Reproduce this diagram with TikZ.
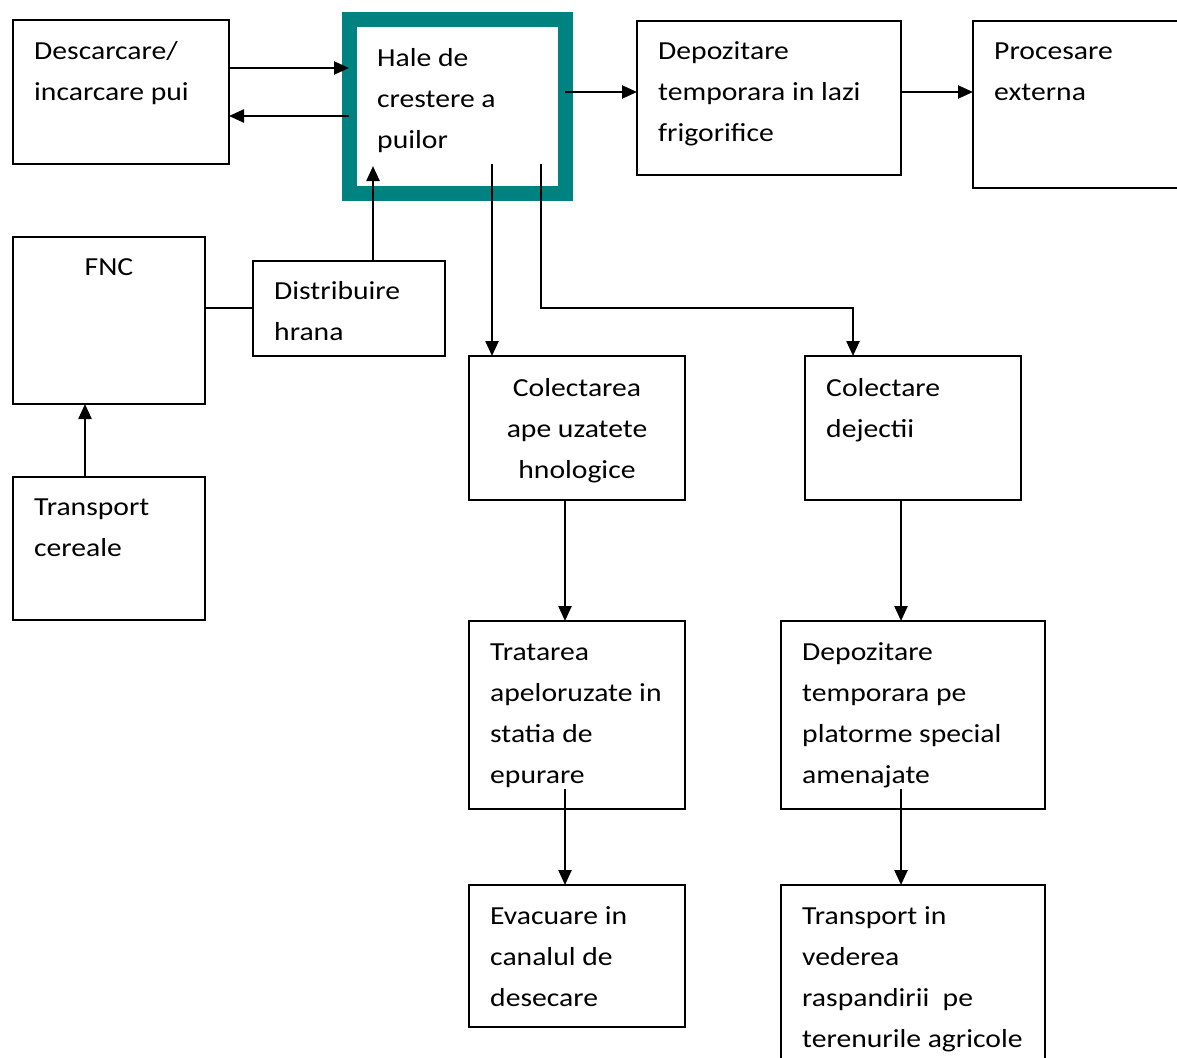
\documentclass[tikz,border=0pt]{standalone}
\usepackage{fontspec}
\setmainfont{Carlito}[FakeStretch=1.14]
\usetikzlibrary{arrows.meta,calc}
\definecolor{tealc}{RGB}{0,130,128}
\newcommand\mystrut{\rule{0pt}{30pt}}
\begin{document}
\begin{tikzpicture}[x=1pt,y=-1pt,
  box/.style={draw=black, line width=2pt, rectangle, anchor=north west, inner sep=0pt, outer sep=0pt, fill=white},
  tealbox/.style={draw=tealc, line width=15pt, rectangle, anchor=north west, inner sep=0pt, outer sep=0pt},
  txt/.style={anchor=north west, inner sep=0pt, align=left, font=\fontsize{26}{41}\selectfont},
  ctxt/.style={anchor=north, inner sep=0pt, align=center, font=\fontsize{26}{41}\selectfont},
  arr/.style={line width=2.4pt, -{Triangle[length=15pt,width=13pt]}},
  conn/.style={line width=1.8pt},
]
\useasboundingbox (0,0) rectangle (1177,1057);
\fill[white] (0,0) rectangle (1177,1057);
\clip (0,0) rectangle (1177,1057);

% boxes
\node[box, minimum width=216pt, minimum height=144pt] (desc) at (13,20) {};
\node[tealbox, minimum width=216pt, minimum height=173pt] (hale) at (349,20) {};
\node[box, minimum width=264pt, minimum height=154pt] (depo1) at (637,21) {};
\node[box, minimum width=230pt, minimum height=167pt] (proc) at (973,21) {};
\node[box, minimum width=192pt, minimum height=167pt] (fnc) at (13,237) {};
\node[box, minimum width=192pt, minimum height=95pt] (distr) at (253,261) {};
\node[box, minimum width=192pt, minimum height=143pt] (transc) at (13,477) {};
\node[box, minimum width=216pt, minimum height=144pt] (colA) at (469,356) {};
\node[box, minimum width=216pt, minimum height=144pt] (colD) at (805,356) {};
\node[box, minimum width=216pt, minimum height=188pt] (trat) at (469,621) {};
\node[box, minimum width=264pt, minimum height=188pt] (depo2) at (781,621) {};
\node[box, minimum width=216pt, minimum height=142pt] (evac) at (469,885) {};
\node[box, minimum width=264pt, minimum height=200pt] (transv) at (781,885) {};

% texts
\node[txt] (tdesc) at ($(desc.north west)+(21,9)$) {\mystrut Descarcare/\\incarcare pui};
\node[txt] (thale) at ($(hale.north west)+(28,16)$) {\mystrut Hale de\\crestere a\\puilor};
\node[txt] (tdepo1) at ($(depo1.north west)+(21,8)$) {\mystrut Depozitare\\temporara in lazi\\frigorifice};
\node[txt] (tproc) at ($(proc.north west)+(21,8)$) {\mystrut Procesare\\externa};
\node[ctxt] (tfnc) at ($(fnc.north)+(0,8)$) {\mystrut FNC};
\node[txt] (tdistr) at ($(distr.north west)+(21,8)$) {\mystrut Distribuire\\hrana};
\node[txt] (ttransc) at ($(transc.north west)+(21,8)$) {\mystrut Transport\\cereale};
\node[ctxt] (tcolA) at ($(colA.north)+(0,10)$) {\mystrut Colectarea\\ape uzatete\\hnologice};
\node[txt] (tcolD) at ($(colD.north west)+(21,10)$) {\mystrut Colectare\\dejectii};
\node[txt] (ttrat) at ($(trat.north west)+(21,9)$) {\mystrut Tratarea\\apeloruzate in\\statia de\\epurare};
\node[txt] (tdepo2) at ($(depo2.north west)+(21,9)$) {\mystrut Depozitare\\temporara pe\\platorme special\\amenajate};
\node[txt] (tevac) at ($(evac.north west)+(21,9)$) {\mystrut Evacuare in\\canalul de\\desecare};
\node[txt] (ttransv) at ($(transv.north west)+(21,9)$) {\mystrut Transport in\\vederea\\raspandirii\ \ pe\\terenurile agricole};

% connectors
\coordinate (halein) at ($(hale.north west)+(24,146)$);
\coordinate (haleA) at ($(hale.north west)+(143,144)$);
\coordinate (haleD) at ($(hale.north west)+(192,144)$);
\coordinate (tratout) at ($(trat.south west)+(96,-20)$);
\coordinate (depo2out) at ($(depo2.south west)+(120,-20)$);

\draw[arr] ($(desc.north east)+(0,48)$) -- ($(hale.north west)+(0,48)$);
\draw[arr] ($(hale.north west)+(0,96)$) -- ($(desc.north east)+(0,96)$);
\draw[arr] ($(hale.north east)+(0,72)$) -- ($(depo1.north west)+(0,71)$);
\draw[arr] ($(depo1.north east)+(0,71)$) -- ($(proc.north west)+(0,71)$);
\draw[arr] ($(distr.north west)+(120,0)$) -- (halein);
\draw[conn] ($(fnc.north east)+(0,71)$) -- ($(distr.north west)+(0,47)$);
\draw[arr] ($(transc.north west)+(72,0)$) -- ($(fnc.south west)+(72,0)$);
\draw[arr] (haleA) -- ($(colA.north west)+(23,0)$);
\draw[arr] (haleD) |- ($(colD.north west)+(48,-48)$) -- ($(colD.north west)+(48,0)$);
\draw[arr] ($(colA.south west)+(96,0)$) -- ($(trat.north west)+(96,0)$);
\draw[arr] ($(colD.south west)+(96,0)$) -- ($(depo2.north west)+(120,0)$);
\draw[arr] (tratout) -- ($(evac.north west)+(96,0)$);
\draw[arr] (depo2out) -- ($(transv.north west)+(120,0)$);
\end{tikzpicture}
\end{document}
